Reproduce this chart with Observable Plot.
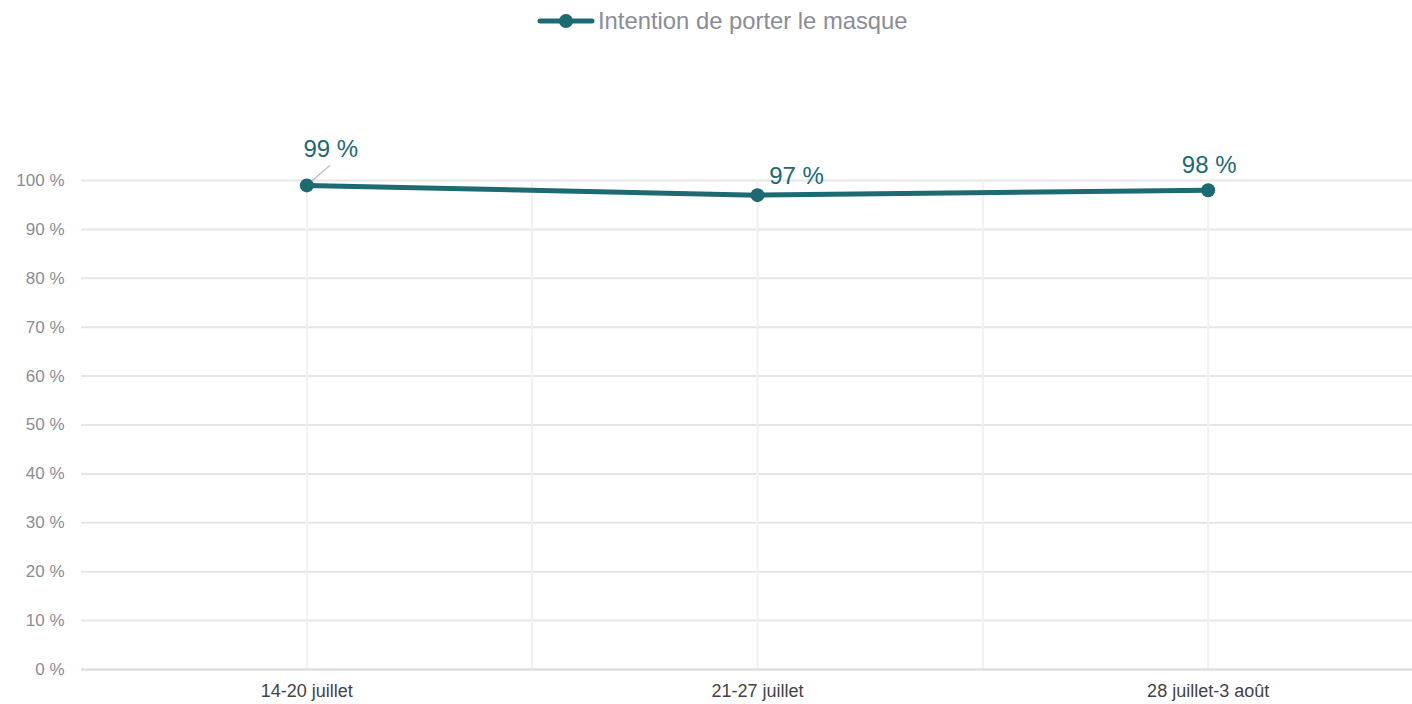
<!DOCTYPE html>
<html>
<head>
<meta charset="utf-8">
<script src="https://cdn.jsdelivr.net/npm/d3@7"></script>
<script src="https://cdn.jsdelivr.net/npm/@observablehq/plot@0.6"></script>
<style>
  html, body { margin: 0; padding: 0; background: #fff; overflow: hidden; width: 1412px; height: 704px; }
  #legend { position: relative; height: 45px; font-family: "Liberation Sans", Arial, sans-serif; }
  #legend .item { position: absolute; left: 537px; top: 7px; display: flex; align-items: center; gap: 3px; font-size: 23.8px; line-height: 28px; color: #8b8c96; }
  #chart svg { display: block; }
</style>
</head>
<body>
<div id="legend"></div>
<div id="chart"></div>
<script>
const categories = ["14-20 juillet", "21-27 juillet", "28 juillet-3 août"];
const values = [99, 97, 98];
const valueLabels = ["99 %", "97 %", "98 %"];
const yTicks = [0, 10, 20, 30, 40, 50, 60, 70, 80, 90, 100];
const seriesName = "Intention de porter le masque";

const color = "#1d6a72";
const rows = categories.map((c, i) => ({i, c, v: values[i], label: valueLabels[i]}));
const n = categories.length;

// legend
const legend = document.getElementById("legend");
legend.innerHTML = `<div class="item"><svg width="58" height="20"><line x1="3" y1="10" x2="55" y2="10" stroke="${color}" stroke-width="5" stroke-linecap="round"/><circle cx="29" cy="10" r="7" fill="${color}"/></svg><span>${seriesName}</span></div>`;

const labelOffsets = [[24, -36], [39, -19], [1, -25]];

const chart = Plot.plot({
  width: 1412,
  height: 659,
  marginTop: 135,
  marginBottom: 35,
  marginLeft: 81,
  marginRight: 0,
  style: {fontFamily: "Liberation Sans, Arial, sans-serif", background: "#fff", overflow: "visible"},
  x: {type: "linear", domain: [-0.5, n - 0.5], range: [81, 1433]},
  y: {domain: [0, 100]},
  marks: [
    Plot.ruleY(yTicks, {y: d => d, stroke: "#e6e6e6", strokeWidth: 2}),
    Plot.ruleX(d3.range(0, n, 0.5), {x: d => d, y1: 0, y2: 100, stroke: "#f1f1f1", strokeWidth: 2}),
    Plot.ruleY([0], {stroke: "#dedede", strokeWidth: 2}),
    Plot.axisY({ticks: yTicks, tickSize: 0, tickPadding: 17, tickFormat: d => d + " %", fontSize: 17, color: "#8b8c96", label: null}),
    Plot.axisX({ticks: d3.range(n), tickSize: 0, tickPadding: 15, tickFormat: i => categories[i], fontSize: 18, color: "#444", label: null}),
    Plot.vector(rows.filter(d => d.i === 0), {x: "i", y: "v", length: 30, rotate: 49, anchor: "start", stroke: "#c4c4c4", strokeWidth: 1.5, shape: {draw(ctx, l) { ctx.moveTo(0, 0); ctx.lineTo(0, -l); }}}),
    Plot.line(rows, {x: "i", y: "v", stroke: color, strokeWidth: 5, strokeLinecap: "round"}),
    Plot.dot(rows, {x: "i", y: "v", r: 7, fill: color}),
    ...rows.map((d, k) => Plot.text([d], {x: "i", y: "v", text: "label", dx: labelOffsets[k][0], dy: labelOffsets[k][1], fill: color, fontSize: 24}))
  ]
});
document.getElementById("chart").appendChild(chart);
</script>
</body>
</html>
